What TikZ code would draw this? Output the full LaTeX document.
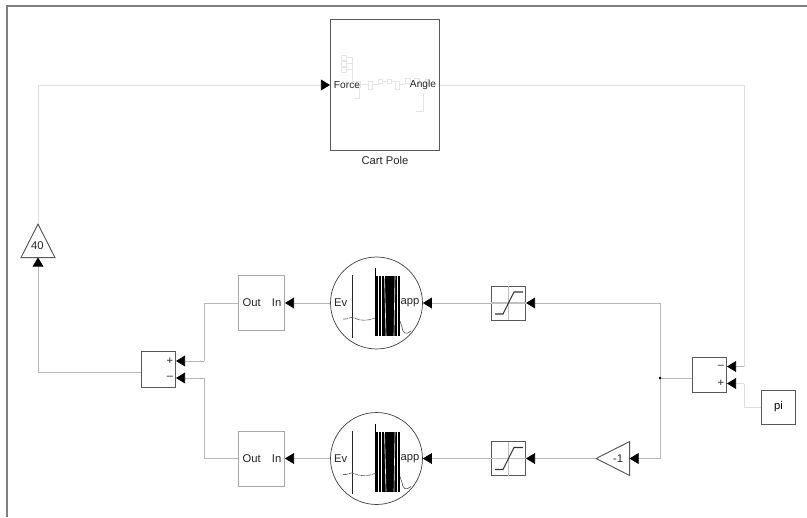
\documentclass[tikz,border=0pt]{standalone}
\usepackage{fontspec}
\setmainfont{Liberation Sans}
\usetikzlibrary{arrows.meta, shapes.geometric}
\tikzset{
  block/.style={draw=black!65, line width=0.55pt, minimum width=0.68cm, minimum height=0.68cm, inner sep=0pt, font=\fontsize{6.4}{8}\selectfont},
  softblock/.style={block, draw=black!35, minimum width=0.92cm, minimum height=1.1cm},
  cell/.style={draw=none, text=black!85, inner sep=0pt, font=\fontsize{6.4}{8}\selectfont},
  smallcell/.style={cell, font=\fontsize{5.8}{7}\selectfont},
  gaintri/.style={draw=black!65, line width=0.55pt, isosceles triangle, isosceles triangle apex angle=53, isosceles triangle stretches, minimum height=0.67cm, minimum width=0.68cm, inner sep=0pt, anchor=apex},
  wire/.style={draw=black!28, line width=0.45pt},
  faint/.style={draw=black!13, line width=0.45pt},
  feed/.style={wire, -{Triangle[length=5.2pt,width=6.2pt,black]}},
  faintfeed/.style={faint, -{Triangle[length=5.2pt,width=6.2pt,black]}},
  thumb/.style={draw=black!10, line width=0.3pt},
  neuron/.style={draw=black!75, line width=0.4pt, circle, minimum size=1.84cm, inner sep=0pt}
}
\begin{document}
\begin{tikzpicture}[x=0.02cm,y=-0.02cm]
\useasboundingbox (0,0) rectangle (807,517);
% frame
\draw[black!50, line width=1.1pt] (6.8,517) -- (6.8,6) -- (807,6);

% plant
\node[block, minimum width=2.18cm, minimum height=2.62cm] (cartpole) at (385,85) {};
\foreach \y in {57.5,63.5,69.5} \draw[thumb] (341.5,\y-2.5) rectangle (346.5,\y+2.5) (346.5,\y) -- (352,\y);
\draw[thumb] (352,57.5) -- (352,81) -- (356,81);
\draw[thumb] (356,81) rectangle (360.5,87) (360.5,84) -- (368.5,84) (368.5,81) rectangle (372.5,89) (372.5,84) -- (378,84) -- (378,81);
\draw[thumb] (378,79) rectangle (382.5,83) (382.5,81) -- (387,81) (387,79) rectangle (391.5,83) (391.5,81) -- (395,81);
\draw[thumb] (395,81) rectangle (399.5,89) (399.5,84) -- (405,84) (405,78) rectangle (410,83) (414,78) rectangle (419,83) (425,79) rectangle (429.5,83);
\draw[thumb] (359,87) -- (359,98) -- (354,98) (423.5,93) -- (423.5,111) -- (416,111);
\node[smallcell] (forcelab) at (347,85) {Force};
\node[smallcell] (anglelab) at (423,85) {Angle};
\node[cell] (cartlab) at (385,160.5) {Cart Pole};

% gain to plant
\node[gaintri, shape border rotate=90] (gainup) at (38,223) {};
\node[cell] (gainuplab) at (37.5,246) {40};

% output sum
\node[block, minimum height=0.71cm] (sumleft) at (158.5,369.5) {};
\node[cell] (sumleftp) at (170,361) {+};
\node[cell] (sumleftm) at (170,378) {--};

% upper branch
\node[softblock] (decodeA) at (261.5,303) {};
\node[cell] (decodeAout) at (251.7,303) {Out};
\node[cell] (decodeAin) at (276.6,303) {In};
\node[neuron] (neuronA) at (376.5,303) {};
\node[block] (satA) at (508.5,303) {};

% lower branch
\node[softblock] (decodeB) at (261.5,458.5) {};
\node[cell] (decodeBout) at (251.7,458.5) {Out};
\node[cell] (decodeBin) at (276.6,458.5) {In};
\node[neuron] (neuronB) at (376.5,458.5) {};
\node[block] (satB) at (508.5,458.5) {};
\node[gaintri, shape border rotate=180] (gainneg) at (595,458.5) {};
\node[cell] (gainneglab) at (618,458.5) {-1};

% traces and saturation marks
\foreach \cy in {303,458.5} {
  \draw[black!85, line width=0.5pt] (352.3,\cy-28) -- (352.3,\cy+35);
  \draw[black, line width=0.4pt] (375.2,\cy-35) -- (375.2,\cy+33);
  \fill[black] (376,\cy-27) rectangle (399.5,\cy+33);
  \foreach \sx/\tx/\wd in {378.3/378.3/0.45,381.5/381.5/0.45,384.5/386/0.35,395/394/0.35,397.5/397.5/0.3} \draw[white, line width=\wd pt] (\sx,\cy-27) -- (\tx,\cy+33);
  \draw[black!60, line width=0.35pt, dash pattern=on 3pt off 0.4pt] (343,\cy+16) .. controls (348,\cy+17) and (350,\cy+13) .. (354,\cy+15) .. controls (360,\cy+18) and (368,\cy+18) .. (375,\cy+15);
  \draw[black!70, line width=0.35pt] (400,\cy+18) -- (402,\cy+24) .. controls (403,\cy+31) and (406,\cy+32) .. (411,\cy+28);
  \draw[black!25, line width=0.6pt] (508.5,\cy-17) -- (508.5,\cy+17) (491,\cy) -- (526,\cy);
  \draw[black!80, line width=0.6pt] (495,\cy+11) -- (503,\cy+11) -- (514,\cy-11) -- (523,\cy-11);
}
\node[cell] (neuronAev) at (340.6,303) {Ev};
\node[cell] (neuronAapp) at (410,303) {app};
\node[cell] (neuronBev) at (340.6,458.5) {Ev};
\node[cell] (neuronBapp) at (410,458.5) {app};

% input sum and source
\node[block, minimum height=0.71cm] (sumright) at (709.5,375) {};
\node[cell] (sumrightm) at (721,366.5) {--};
\node[cell] (sumrightp) at (721,383.5) {+};
\node[block] (pisrc) at (778.5,407) {pi};

% named points on the wires
\coordinate (sumrightinm) at (sumright.east |- 0,366.5);
\coordinate (sumrightinp) at (sumright.east |- 0,383.5);
\coordinate (sumleftinp) at (sumleft.east |- 0,361);
\coordinate (sumleftinm) at (sumleft.east |- 0,378);
\coordinate (branch) at (660,378);
\coordinate (angleturn) at (744,366.5);
\coordinate (piturn) at (744,383.5);
\coordinate (outturn) at (204,361);
\coordinate (outturnb) at (204,378);
\coordinate (gainturn) at (38,85);
\coordinate (sumturn) at (38,372.5);
\coordinate (sumout) at (sumleft.west |- 0,372.5);
\coordinate (forcein) at (cartpole.west |- 0,85);
\coordinate (angleout) at (cartpole.east |- 0,85);
\coordinate (gainupbase) at (38,257.5);
\coordinate (gainnegbase) at (629.5,458.5);

% wires
\draw[faintfeed] (gainup.apex) -- (gainturn) -- (forcein);
\draw[faint] (angleout) -| (angleturn);
\draw[feed] (angleturn) -- (sumrightinm);
\draw[faint] (pisrc.west) -| (piturn);
\draw[faintfeed] (piturn) -- (sumrightinp);
\draw[wire] (sumright.west |- branch) -- (branch);
\draw[feed] (branch) |- (satA.east);
\draw[feed] (branch) |- (gainnegbase);
\draw[feed] (gainneg.apex) -- (satB.east);
\draw[feed] (satA.west) -- (neuronA.east);
\draw[feed] (satB.west) -- (neuronB.east);
\draw[feed] (neuronA.west) -- (decodeA.east);
\draw[feed] (neuronB.west) -- (decodeB.east);
\draw[wire] (decodeA.west) -| (outturn);
\draw[feed] (outturn) -- (sumleftinp);
\draw[wire] (decodeB.west) -| (outturnb);
\draw[feed] (outturnb) -- (sumleftinm);
\draw[feed] (sumout) -- (sumturn) -- (gainupbase);
\fill[black] (branch) circle (1.3);
\end{tikzpicture}
\end{document}
